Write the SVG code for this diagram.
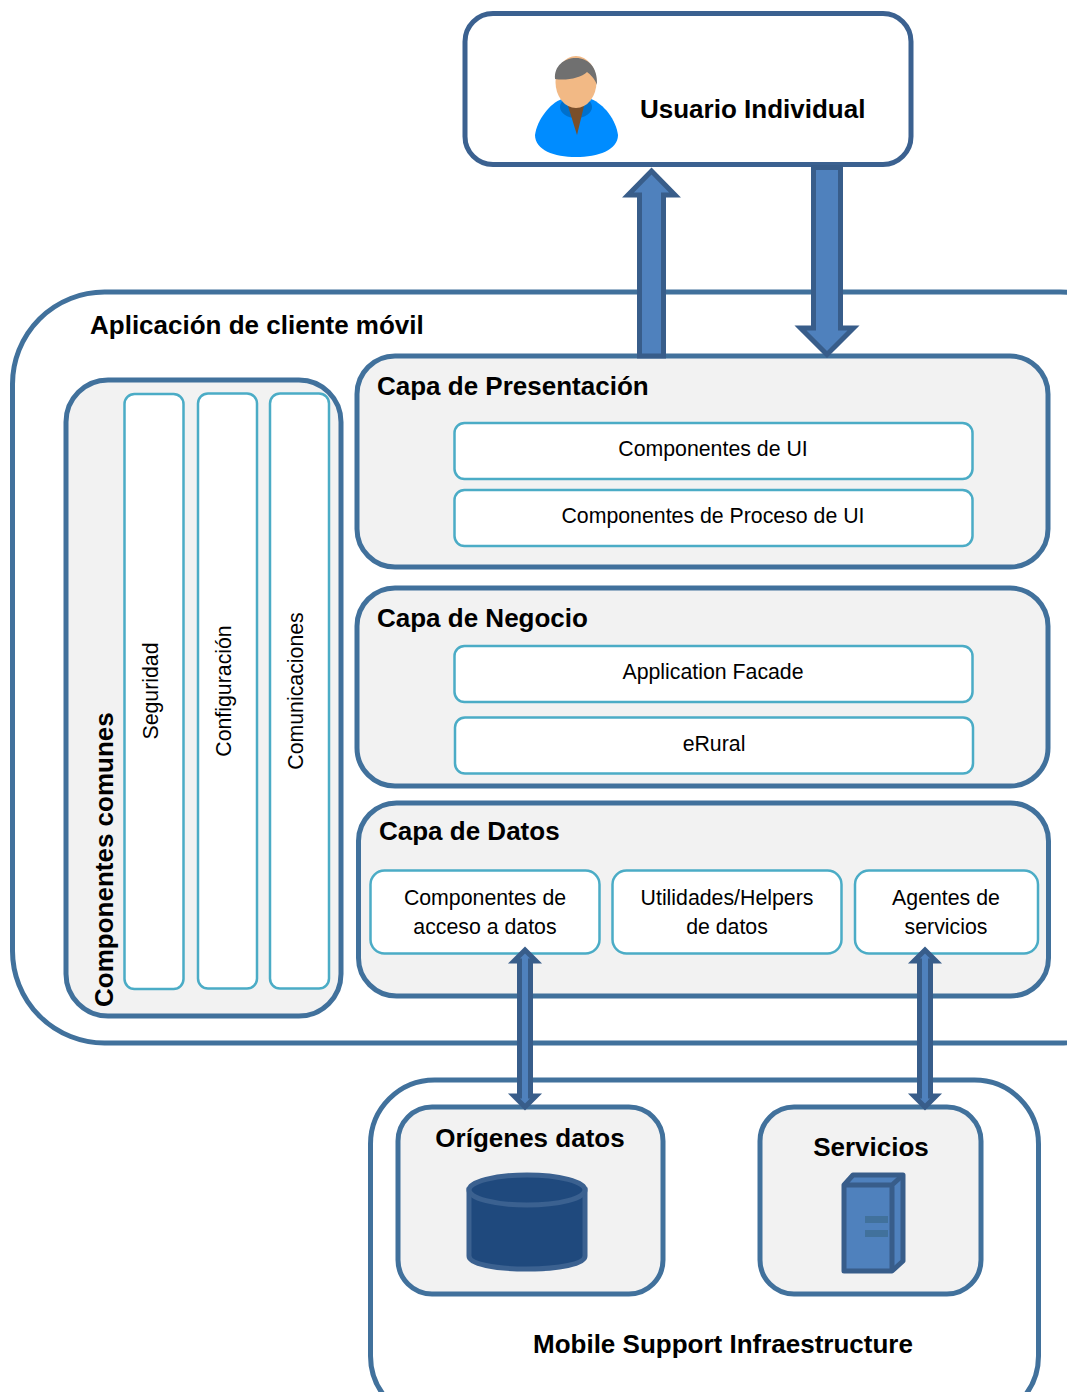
<svg xmlns="http://www.w3.org/2000/svg" width="1067" height="1392" viewBox="0 0 1067 1392">
<style>
.c{stroke:#41719c;stroke-width:5;fill:#f2f2f2}
.w{fill:#fff}
.d{stroke:#3b6190;stroke-width:5;fill:#fff}
.i{fill:#fff;stroke:#4bacc6;stroke-width:2.5}
.a{fill:#4f81bd;stroke:#385d8a;stroke-width:5;stroke-miterlimit:8}
text{font-family:"Liberation Sans",Arial,sans-serif;fill:#000}
.b{font-weight:700;font-size:26px}
.n{font-size:21.3px;text-anchor:middle}
</style>
<g id="app"><rect class="c w" x="12.500" y="292" width="1140" height="751" rx="92"/><text class="b" x="90" y="334">Aplicación de cliente móvil</text></g>
<g id="infra"><rect class="c w" x="370.500" y="1080" width="668" height="340" rx="64"/><text class="b" x="533" y="1353">Mobile Support Infraestructure</text></g>
<g id="usuario">
<rect class="d" x="465" y="13.500" width="446" height="151" rx="28"/>
<text class="b" x="640" y="118">Usuario Individual</text>
<path d="M535 135C537 120 550 103 562 99L591 99C604 104 616 120 618 135C618 150 598 157 576 157C554 157 535 150 535 135Z" fill="#008cff"/>
<ellipse cx="576" cy="107" rx="16" ry="11" fill="#0070cc"/>
<path d="M568 106L584 106L577 135Z" fill="#7a4f2a"/>
<ellipse cx="576" cy="82" rx="20.500" ry="26" fill="#f2b985"/>
<path d="M555 79C554 66 564 58 576 58C588 58 598 67 597 85C595 79 590 74 587 72C581 78 566 81 555 79Z" fill="#707070"/>
</g>
<g id="comunes">
<rect class="c" x="66" y="380" width="275" height="636" rx="42"/>
<text class="b" transform="translate(113 1007) rotate(-90)">Componentes comunes</text>
<rect class="i" x="124.500" y="394" width="59" height="595" rx="10"/>
<text class="n" transform="translate(158 691) rotate(-90)">Seguridad</text>
<rect class="i" x="198" y="393.500" width="59" height="595" rx="10"/>
<text class="n" transform="translate(231 691) rotate(-90)">Configuración</text>
<rect class="i" x="270" y="393.500" width="59" height="595" rx="10"/>
<text class="n" transform="translate(303 691) rotate(-90)">Comunicaciones</text>
</g>
<g id="presentacion">
<rect class="c" x="357" y="356" width="691" height="211" rx="38"/>
<text class="b" x="377" y="395">Capa de Presentación</text>
<rect class="i" x="454.500" y="423" width="518" height="56" rx="10"/>
<text class="n" x="713" y="456">Componentes de UI</text>
<rect class="i" x="454.500" y="490" width="518" height="56" rx="10"/>
<text class="n" x="713" y="523">Componentes de Proceso de UI</text>
</g>
<g id="negocio">
<rect class="c" x="357" y="588" width="691" height="198" rx="38"/>
<text class="b" x="377" y="627">Capa de Negocio</text>
<rect class="i" x="454.500" y="646" width="518" height="56" rx="10"/>
<text class="n" x="713" y="679">Application Facade</text>
<rect class="i" x="455" y="717.500" width="518" height="56" rx="10"/>
<text class="n" x="714" y="751">eRural</text>
</g>
<g id="datos">
<rect class="c" x="358.500" y="803" width="690" height="193" rx="38"/>
<text class="b" x="379" y="840">Capa de Datos</text>
<rect class="i" x="370.500" y="870.500" width="229" height="83" rx="14"/>
<text class="n" x="485" y="905">Componentes de</text><text class="n" x="485" y="934">acceso a datos</text>
<rect class="i" x="612.500" y="870.500" width="229" height="83" rx="14"/>
<text class="n" x="727" y="905">Utilidades/Helpers</text><text class="n" x="727" y="934">de datos</text>
<rect class="i" x="855" y="870.500" width="183" height="83" rx="14"/>
<text class="n" x="946" y="905">Agentes de</text><text class="n" x="946" y="934">servicios</text>
</g>
<g id="origenes">
<rect class="c" x="398" y="1107" width="265" height="187" rx="34"/>
<text class="b" x="530" y="1147" text-anchor="middle">Orígenes datos</text>
<path d="M469 1190L469 1256C469 1264 495 1269 527 1269C559 1269 585 1264 585 1256L585 1190Z" fill="#1f497d" stroke="#3b6190" stroke-width="5"/>
<ellipse cx="527" cy="1190" rx="58" ry="15" fill="#1f497d" stroke="#3b6190" stroke-width="5"/>
</g>
<g id="servicios">
<rect class="c" x="760" y="1107" width="221" height="187" rx="34"/>
<text class="b" x="871" y="1156" text-anchor="middle">Servicios</text>
<path d="M844 1271L844 1185L853 1175L903 1175L903 1261L892 1271Z" fill="#4f81bd" stroke="#385d8a" stroke-width="5" stroke-linejoin="round"/>
<path d="M844 1185L892 1185L892 1271M892 1185L903 1175" fill="none" stroke="#385d8a" stroke-width="5"/>
<rect x="865" y="1216" width="23" height="7" fill="#41719c"/>
<rect x="865" y="1230" width="23" height="7" fill="#41719c"/>
</g>
<g id="connectors">
<path class="a" d="M651.500 171L675 195L663.500 195L663.500 356L639.500 356L639.500 195L628 195Z"/>
<path class="a" d="M813.500 167.500L840.500 167.500L840.500 328L853.500 328L827 354.500L800.500 328L813.500 328Z"/>
<path class="a" d="M525 950L536 961L530.500 961L530.500 1096L536 1096L525 1107L514 1096L519.500 1096L519.500 961L514 961Z"/>
<path class="a" d="M925 950L936 961L930.500 961L930.500 1096L936 1096L925 1107L914 1096L919.500 1096L919.500 961L914 961Z"/>
</g>
</svg>
